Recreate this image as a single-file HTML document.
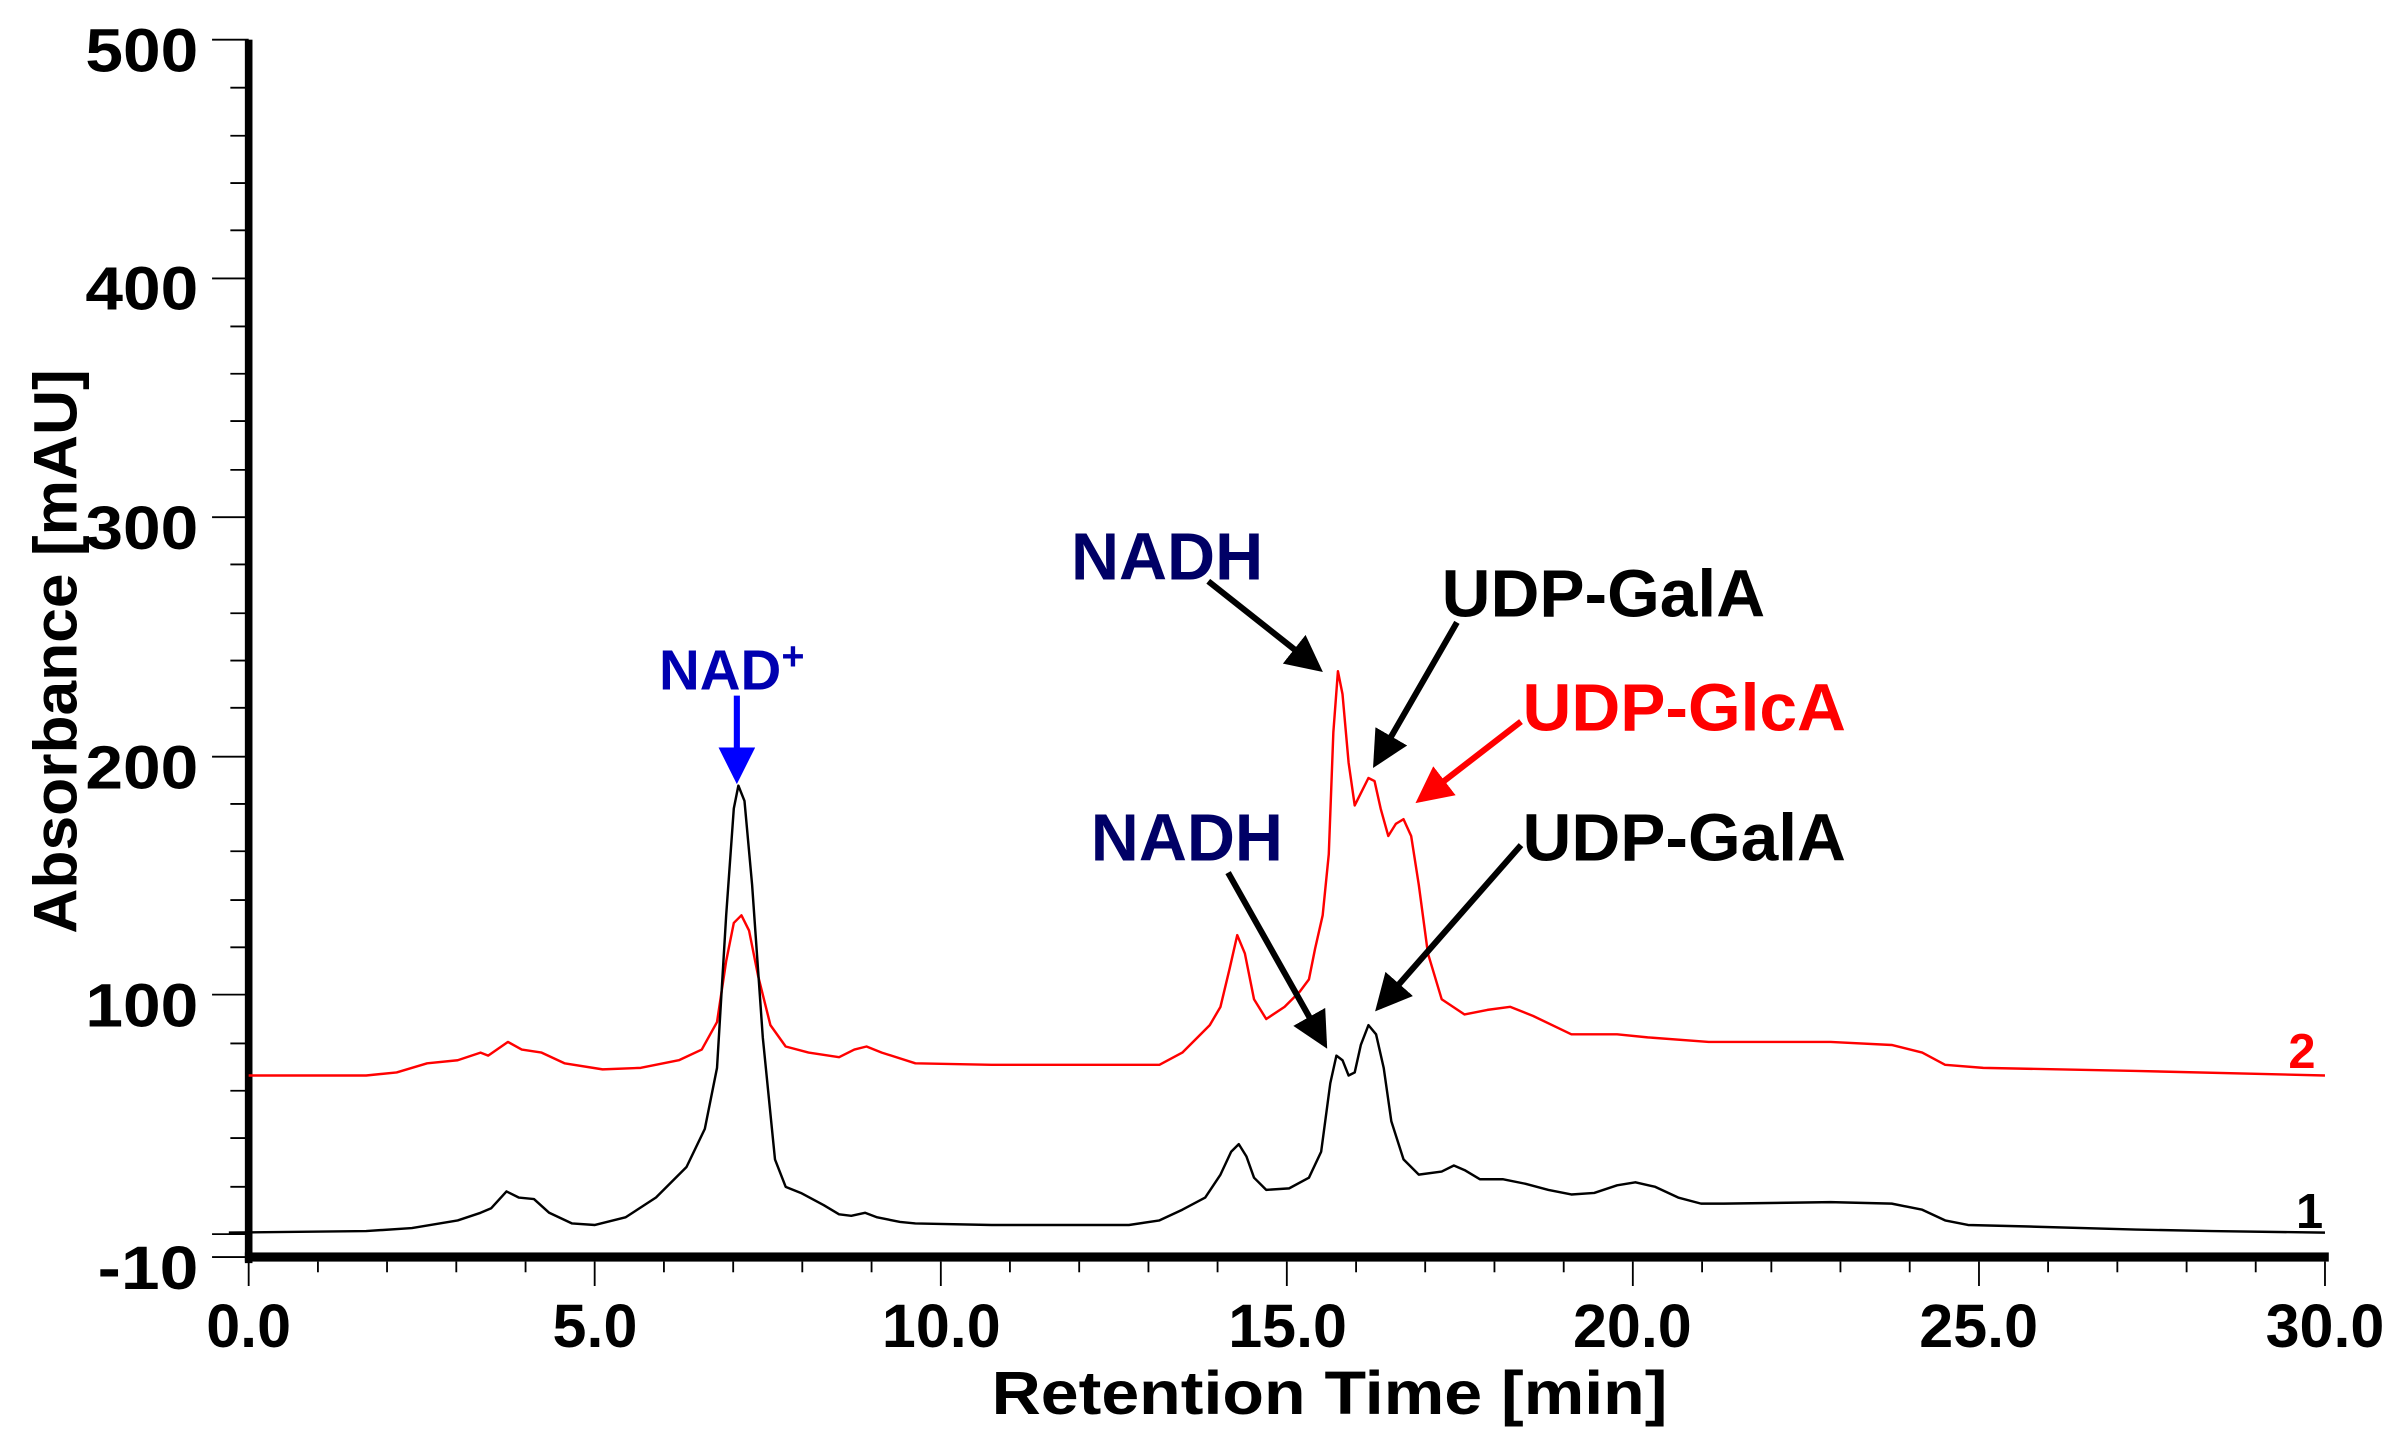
<!DOCTYPE html>
<html><head><meta charset="utf-8"><style>
html,body{margin:0;padding:0;background:#fff;}
svg{display:block;}
text{font-family:"Liberation Sans",Arial,sans-serif;font-weight:bold;}
</style></head><body>
<svg width="2386" height="1432" viewBox="0 0 1564 938.7" preserveAspectRatio="none" xmlns="http://www.w3.org/2000/svg">
<defs>
<marker id="ak" markerWidth="6" markerHeight="6" refX="5" refY="3" orient="auto" markerUnits="strokeWidth"><path d="M0,0 L6,3 L0,6 z" fill="#000"/></marker>
<marker id="ar" markerWidth="6" markerHeight="6" refX="5" refY="3" orient="auto" markerUnits="strokeWidth"><path d="M0,0 L6,3 L0,6 z" fill="#f00"/></marker>
<marker id="ab" markerWidth="6" markerHeight="6" refX="5" refY="3" orient="auto" markerUnits="strokeWidth"><path d="M0,0 L6,3 L0,6 z" fill="#00f"/></marker>
</defs>
<g stroke="#000" stroke-width="1.2">
<line x1="139" y1="26" x2="163" y2="26"/><line x1="151" y1="57.5" x2="163" y2="57.5"/><line x1="151" y1="89" x2="163" y2="89"/><line x1="151" y1="120" x2="163" y2="120"/><line x1="151" y1="151" x2="163" y2="151"/>
<line x1="139" y1="182.5" x2="163" y2="182.5"/><line x1="151" y1="214" x2="163" y2="214"/><line x1="151" y1="245" x2="163" y2="245"/><line x1="151" y1="276" x2="163" y2="276"/><line x1="151" y1="308" x2="163" y2="308"/>
<line x1="139" y1="339" x2="163" y2="339"/><line x1="151" y1="370" x2="163" y2="370"/><line x1="151" y1="402" x2="163" y2="402"/><line x1="151" y1="433" x2="163" y2="433"/><line x1="151" y1="464" x2="163" y2="464"/>
<line x1="139" y1="496" x2="163" y2="496"/><line x1="151" y1="527" x2="163" y2="527"/><line x1="151" y1="558" x2="163" y2="558"/><line x1="151" y1="590" x2="163" y2="590"/><line x1="151" y1="621" x2="163" y2="621"/>
<line x1="139" y1="652" x2="163" y2="652"/><line x1="151" y1="684" x2="163" y2="684"/><line x1="151" y1="715" x2="163" y2="715"/><line x1="151" y1="746" x2="163" y2="746"/><line x1="151" y1="778" x2="163" y2="778"/>
<line x1="139" y1="809" x2="163" y2="809"/><line x1="139" y1="824" x2="163" y2="824"/>
</g>
<rect x="160.5" y="26" width="5" height="802" fill="#000"/>
<rect x="160.5" y="821" width="1366" height="6" fill="#000"/>
<g font-size="40" text-anchor="end">
<text x="130" y="47" textLength="74" lengthAdjust="spacingAndGlyphs">500</text>
<text x="130" y="203" textLength="74" lengthAdjust="spacingAndGlyphs">400</text>
<text x="130" y="360" textLength="74" lengthAdjust="spacingAndGlyphs">300</text>
<text x="130" y="517" textLength="74" lengthAdjust="spacingAndGlyphs">200</text>
<text x="130" y="673" textLength="74" lengthAdjust="spacingAndGlyphs">100</text>
<text x="130" y="845" textLength="66" lengthAdjust="spacingAndGlyphs">-10</text>
</g>
<text transform="translate(50,612) rotate(-90)" font-size="40" textLength="370" lengthAdjust="spacingAndGlyphs">Absorbance [mAU]</text>
<g font-size="40" text-anchor="middle">
<text x="163" y="883">0.0</text><text x="390" y="883">5.0</text><text x="617" y="883">10.0</text>
<text x="844" y="883">15.0</text><text x="1070" y="883">20.0</text><text x="1297" y="883">25.0</text><text x="1524" y="883">30.0</text>
</g>
<text x="650" y="927" font-size="40" textLength="443" lengthAdjust="spacingAndGlyphs">Retention Time [min]</text>
<g stroke-linejoin="round">
<polyline fill="none" stroke="#f00" stroke-width="1.6" points="163,705 240,705 260,703 280,697 300,695 315,690 320,692 333,683 342,688 355,690 370,697 395,701 420,700 445,695 460,688 470,670 476,630 481,605 486,600 491,610 497,640 505,672 515,686 530,690 550,693 560,688 568,686 578,690 600,697 650,698 700,698 760,698 775,690 785,680 793,672 800,660 806,635 811,613 816,625 822,655 830,668 842,660 852,650 858,642 862,622 867,600 871,560 874,480 877,440 880,455 884,500 888,528 893,518 897,510 901,512 905,530 910,548 915,540 920,537 925,548 930,580 936,625 945,655 960,665 975,662 990,660 1005,666 1030,678 1060,678 1080,680 1120,683 1200,683 1240,685 1260,690 1275,698 1300,700 1400,702 1524,705"/>
<polyline fill="none" stroke="#000" stroke-width="1.6" points="150,808 240,807 270,805 300,800 315,795 322,792 332,781 340,785 350,786 360,795 375,802 390,803 410,798 430,785 450,765 462,740 470,700 476,600 481,530 484,515 488,525 493,580 500,680 508,760 515,778 525,782 540,790 550,796 558,797 567,795 575,798 590,801 600,802 650,803 700,803 740,803 760,800 775,793 790,785 800,770 807,755 812,750 817,758 822,772 830,780 845,779 858,772 866,755 872,710 876,692 880,695 884,705 888,703 892,685 897,672 902,678 907,700 912,735 920,760 930,770 945,768 953,764 960,767 970,773 985,773 1000,776 1015,780 1030,783 1045,782 1060,777 1072,775 1085,778 1100,785 1115,789 1130,789 1200,788 1240,789 1260,793 1275,800 1290,803 1330,804 1400,806 1450,807 1524,808"/>
</g>
<text x="1500" y="700" font-size="32" fill="#f00">2</text>
<text x="1505" y="805" font-size="32" fill="#000">1</text>
<text x="432" y="452" font-size="37" fill="#0000b0">NAD<tspan font-size="26" dy="-13">+</tspan></text>
<line x1="483" y1="456" x2="483" y2="510" stroke="#00f" stroke-width="4" marker-end="url(#ab)"/>
<text x="702" y="380" font-size="44" fill="#000066" textLength="126" lengthAdjust="spacingAndGlyphs">NADH</text>
<line x1="792" y1="381" x2="864" y2="438" stroke="#000" stroke-width="4" marker-end="url(#ak)"/>
<text x="945" y="404" font-size="44" fill="#000" textLength="212" lengthAdjust="spacingAndGlyphs">UDP-GalA</text>
<line x1="955" y1="408" x2="902" y2="500" stroke="#000" stroke-width="4" marker-end="url(#ak)"/>
<text x="998" y="479" font-size="44" fill="#f00" textLength="212" lengthAdjust="spacingAndGlyphs">UDP-GlcA</text>
<line x1="997" y1="473" x2="931" y2="524" stroke="#f00" stroke-width="4" marker-end="url(#ar)"/>
<text x="715" y="564" font-size="44" fill="#000066" textLength="126" lengthAdjust="spacingAndGlyphs">NADH</text>
<line x1="805" y1="572" x2="868" y2="684" stroke="#000" stroke-width="4" marker-end="url(#ak)"/>
<text x="998" y="564" font-size="44" fill="#000" textLength="212" lengthAdjust="spacingAndGlyphs">UDP-GalA</text>
<line x1="997" y1="554" x2="904" y2="660" stroke="#000" stroke-width="4" marker-end="url(#ak)"/>
<g stroke="#000" stroke-width="1.2">
<line x1="163" y1="827" x2="163" y2="843"/><line x1="208.4" y1="827" x2="208.4" y2="834"/><line x1="253.7" y1="827" x2="253.7" y2="834"/><line x1="299.1" y1="827" x2="299.1" y2="834"/><line x1="344.5" y1="827" x2="344.5" y2="834"/>
<line x1="389.8" y1="827" x2="389.8" y2="843"/><line x1="435.2" y1="827" x2="435.2" y2="834"/><line x1="480.6" y1="827" x2="480.6" y2="834"/><line x1="525.9" y1="827" x2="525.9" y2="834"/><line x1="571.3" y1="827" x2="571.3" y2="834"/>
<line x1="616.7" y1="827" x2="616.7" y2="843"/><line x1="662" y1="827" x2="662" y2="834"/><line x1="707.4" y1="827" x2="707.4" y2="834"/><line x1="752.8" y1="827" x2="752.8" y2="834"/><line x1="798.1" y1="827" x2="798.1" y2="834"/>
<line x1="843.5" y1="827" x2="843.5" y2="843"/><line x1="888.9" y1="827" x2="888.9" y2="834"/><line x1="934.2" y1="827" x2="934.2" y2="834"/><line x1="979.6" y1="827" x2="979.6" y2="834"/><line x1="1025" y1="827" x2="1025" y2="834"/>
<line x1="1070.3" y1="827" x2="1070.3" y2="843"/><line x1="1115.7" y1="827" x2="1115.7" y2="834"/><line x1="1161.1" y1="827" x2="1161.1" y2="834"/><line x1="1206.4" y1="827" x2="1206.4" y2="834"/><line x1="1251.8" y1="827" x2="1251.8" y2="834"/>
<line x1="1297.2" y1="827" x2="1297.2" y2="843"/><line x1="1342.5" y1="827" x2="1342.5" y2="834"/><line x1="1387.9" y1="827" x2="1387.9" y2="834"/><line x1="1433.3" y1="827" x2="1433.3" y2="834"/><line x1="1478.6" y1="827" x2="1478.6" y2="834"/>
<line x1="1524" y1="827" x2="1524" y2="843"/>
</g>
</svg>
</body></html>
